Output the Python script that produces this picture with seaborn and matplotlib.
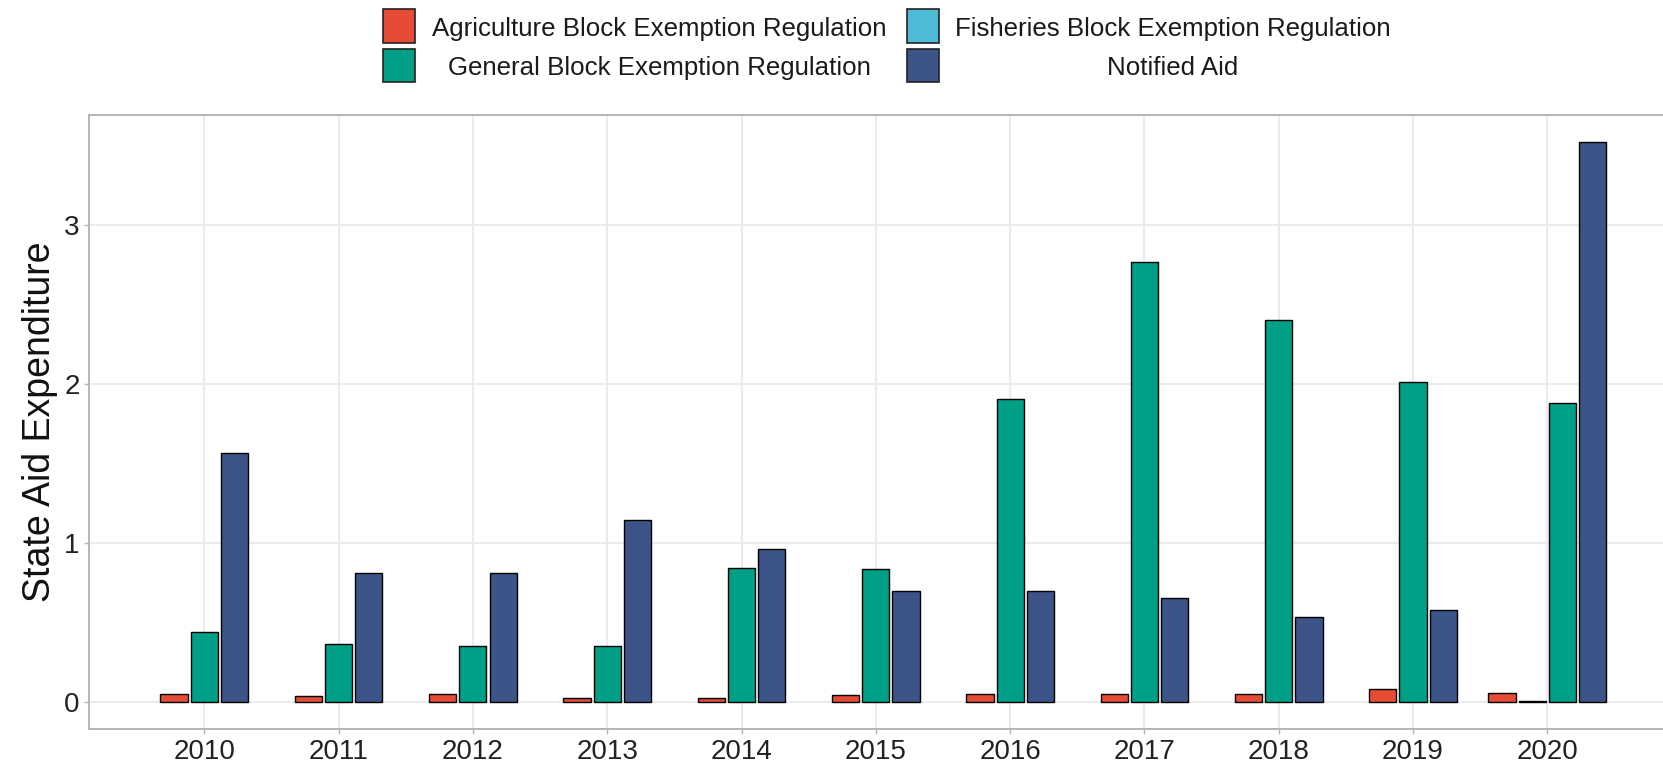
import numpy as np
import pandas as pd
import matplotlib
matplotlib.use("Agg")
import matplotlib.pyplot as plt
import seaborn as sns
from matplotlib.patches import Rectangle

sns.set_theme(style="white")
plt.rcParams["font.family"] = ["Liberation Sans", "DejaVu Sans"]

YEARS = [2010, 2011, 2012, 2013, 2014, 2015, 2016, 2017, 2018, 2019, 2020]
SERIES = [
    "Agriculture Block Exemption Regulation",
    "Fisheries Block Exemption Regulation",
    "General Block Exemption Regulation",
    "Notified Aid",
]
AGRICULTURE = [0.046, 0.038, 0.048, 0.022, 0.022, 0.040, 0.047, 0.047, 0.048, 0.078, 0.057]
FISHERIES = [np.nan] * 10 + [0.006]
GENERAL = [0.436, 0.361, 0.352, 0.348, 0.844, 0.837, 1.902, 2.77, 2.405, 2.01, 1.877]
NOTIFIED = [1.566, 0.811, 0.810, 1.145, 0.964, 0.697, 0.697, 0.655, 0.533, 0.58, 3.52]
COLORS = ["#E64B35", "#4DBBD5", "#00A087", "#3C5488"]
YTICKS = [0, 1, 2, 3]

W, H = 1663, 767
DODGE = 0.225  # slot per bar, bars centred within each year (preserve single)

df = pd.DataFrame({
    "year": np.repeat(YEARS, len(SERIES)),
    "series": SERIES * len(YEARS),
    "value": np.column_stack([AGRICULTURE, FISHERIES, GENERAL, NOTIFIED]).ravel(),
}).dropna()
df["rank"] = df.groupby("year").cumcount()
df["n"] = df.groupby("year")["value"].transform("size")
df["pos"] = df["year"] + (df["rank"] - (df["n"] - 1) / 2) * DODGE

fig = plt.figure(figsize=(W / 100, H / 100), dpi=100)
left, right, top, bottom = 89.3, W, 115, 729.3
ax = fig.add_axes([left / W, 1 - bottom / H, (right - left) / W, (bottom - top) / H])

sns.barplot(data=df, x="pos", y="value", hue="series", hue_order=SERIES,
            palette=COLORS, saturation=1, native_scale=True, dodge=False, width=0.9,
            edgecolor="black", linewidth=1.0, errorbar=None, legend=False, ax=ax)

ax.set_xlim(2009.144, 2020.861)
ax.set_ylim(-0.1737, 3.692)
ax.set_xticks(YEARS)
ax.set_xticklabels([str(y) for y in YEARS])
ax.set_yticks(YTICKS)
ax.set_xlabel("")
ax.set_ylabel("State Aid Expenditure", fontsize=27, color="#111111")
ax.yaxis.set_label_coords(-0.02, 0.5)

ax.set_axisbelow(True)
ax.grid(True, color="#ebebeb", linewidth=1.4)
for side in ["left", "top", "bottom"]:
    ax.spines[side].set_color("#b5b5b5")
    ax.spines[side].set_linewidth(1.4)
ax.spines["right"].set_visible(False)
ax.tick_params(axis="both", which="major", length=3.3, width=1.0, color="#b5b5b5",
               labelsize=20, labelcolor="#222222", pad=3.5, bottom=True, left=True)

# legend: two rows, two columns, second-row labels centred under first-row ones
key_w, key_h = 32, 33
key_left = [383, 907]
text_left = [431.7, 955]
key_top = [9.5, 49]
baselines = [36, 75]
rows = [[0, 1], [2, 3]]
renderer = fig.canvas.get_renderer()
widths = []
for c in range(2):
    idx = rows[0][c]
    t = fig.text(text_left[c] / W, 1 - baselines[0] / H, SERIES[idx], fontsize=18.6,
                 color="#1a1a1a", ha="left", va="baseline")
    widths.append(t.get_window_extent(renderer).width)
for c in range(2):
    idx = rows[1][c]
    fig.text((text_left[c] + widths[c] / 2) / W, 1 - baselines[1] / H, SERIES[idx],
             fontsize=18.6, color="#1a1a1a", ha="center", va="baseline")
for r in range(2):
    for c in range(2):
        idx = rows[r][c]
        fig.add_artist(Rectangle((key_left[c] / W, 1 - (key_top[r] + key_h) / H),
                                 key_w / W, key_h / H, transform=fig.transFigure,
                                 facecolor=COLORS[idx], edgecolor="#222222", linewidth=1.2))

fig.savefig("out.png", dpi=100)
